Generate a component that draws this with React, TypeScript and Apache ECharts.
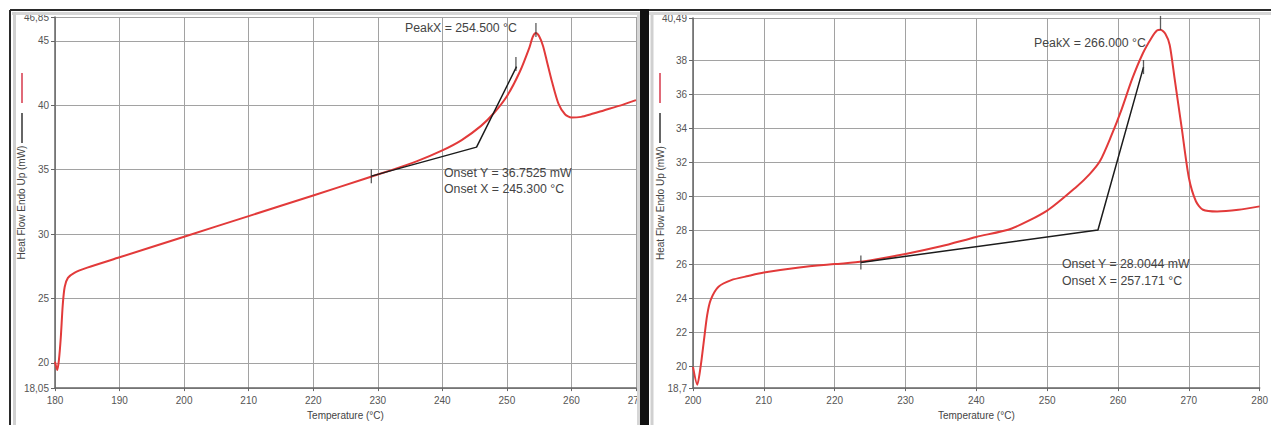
import React, { useEffect, useRef } from "react";
import * as echarts from "echarts";

// ---------- Left panel data ----------
const leftCurveT = [180.0, 180.35, 180.6, 180.9, 181.2, 181.5, 182.0, 183.0, 185.0, 190, 200, 210, 220, 228, 232, 236, 240, 243, 246, 248, 250, 252, 253.5, 254.0, 254.5, 255.0, 255.6, 256.2, 257.0, 258.0, 259.0, 260.0, 261.5, 263.0, 265.0, 268.0, 270.0];
const leftCurveV = [20.1, 19.45, 20.2, 22.0, 24.5, 25.9, 26.6, 27.0, 27.4, 28.2, 29.8, 31.4, 33.0, 34.3, 34.95, 35.65, 36.5, 37.3, 38.4, 39.4, 40.7, 42.6, 44.5, 45.3, 45.6, 45.35, 44.6, 43.4, 41.8, 40.1, 39.3, 39.05, 39.1, 39.3, 39.6, 40.05, 40.4];
const leftTangentT = [229.0, 245.3, 251.5];
const leftTangentV = [34.5, 36.7525, 43.0];
const leftMarkT = [229.0, 251.4, 254.5];
const leftMarkV = [34.5, 43.2, 45.85];
const leftYTicks = [18.05, 20, 25, 30, 35, 40, 45, 46.85];
const leftXMin = 180, leftXMax = 270;

// ---------- Right panel data ----------
const rightCurveT = [200.0, 200.6, 201.07, 201.54, 202.0, 202.5, 203.6, 205.4, 207.8, 210, 215, 220, 224, 230, 235, 240, 245, 250, 254, 256, 257.5, 259, 260.5, 262, 263.5, 264.7, 265.5, 266.0, 266.7, 267.3, 268, 269, 270, 271, 272, 274, 277, 280];
const rightCurveV = [19.95, 18.9, 19.95, 21.5, 23.0, 23.9, 24.67, 25.06, 25.3, 25.5, 25.8, 26.0, 26.15, 26.6, 27.05, 27.6, 28.1, 29.15, 30.5, 31.3, 32.1, 33.5, 35.1, 36.9, 38.4, 39.3, 39.75, 39.8, 39.55, 38.9, 36.9, 34.0, 31.1, 29.7, 29.2, 29.1, 29.2, 29.4];
const rightTangentT = [223.7, 257.171, 263.6];
const rightTangentV = [26.1, 28.0044, 37.6];
const rightMarkT = [223.7, 263.6, 266.0];
const rightMarkV = [26.1, 37.6, 40.2];
const rightYTicks = [18.7, 20, 22, 24, 26, 28, 30, 32, 34, 36, 38, 40.49];
const rightXMin = 200, rightXMax = 280;

const leftAnnot = ["PeakX = 254.500 °C", "Onset Y = 36.7525 mW", "Onset X = 245.300 °C"];
const rightAnnot = ["PeakX = 266.000 °C", "Onset Y = 28.0044 mW", "Onset X = 257.171 °C"];

const zip = (a: number[], b: number[]) => a.map((x, i) => [x, b[i]]);
const fmt = (v: number) => String(v).replace(".", ",");

const FONT = "Liberation Sans, Arial, sans-serif";
const RED = "#e23a3a";

function makeX(idx: number, min: number, max: number) {
  return {
    type: "value",
    gridIndex: idx,
    min,
    max,
    interval: 10,
    name: "Temperature (°C)",
    nameLocation: "middle",
    nameGap: 20,
    nameTextStyle: { fontFamily: FONT, fontSize: 10, color: "#444" },
    axisLine: { show: true, lineStyle: { color: "#666", width: 1.5 } },
    axisTick: { show: true, inside: false, length: 3, lineStyle: { color: "#666" } },
    axisLabel: { fontFamily: FONT, fontSize: 10, color: "#555", margin: 7, showMinLabel: true, showMaxLabel: true },
    splitLine: { show: true, lineStyle: { color: "#a2a2a2", width: 1 } },
  };
}

function makeY(idx: number, min: number, max: number, ticks: number[], gap: number) {
  return {
    type: "value",
    gridIndex: idx,
    min,
    max,
    name: "Heat Flow Endo Up (mW)",
    nameLocation: "middle",
    nameGap: gap,
    nameMoveOverlap: false,
    nameTextStyle: { fontFamily: FONT, fontSize: 10, color: "#444" },
    axisLine: { show: true, lineStyle: { color: "#666", width: 1.5 } },
    axisTick: { show: true, inside: false, length: 4, customValues: ticks, lineStyle: { color: "#666" } },
    axisLabel: {
      fontFamily: FONT,
      fontSize: 10,
      color: "#555",
      margin: 6,
      customValues: ticks,
      formatter: (v: number) => fmt(v),
    },
    splitLine: { show: true, lineStyle: { color: "#a2a2a2", width: 1 } },
  };
}

export default function App() {
  const ref = useRef<HTMLDivElement>(null);
  useEffect(() => {
    if (!ref.current) return;
    const chart = echarts.init(ref.current, undefined, { renderer: "svg" });
    const txt = (x: number, y: number, s: string) => ({
      type: "text",
      x,
      y,
      style: { text: s, fontFamily: FONT, fontSize: 12.3, fill: "#444", textVerticalAlign: "middle" },
      z: 50,
    });
    const vline = (x: number, y1: number, y2: number, color: string, w: number) => ({
      type: "line",
      shape: { x1: x, y1, x2: x, y2 },
      style: { stroke: color, lineWidth: w },
      z: 1,
    });
    const hline = (y: number, x1: number, x2: number, color: string, w: number) => ({
      type: "line",
      shape: { x1, y1: y, x2, y2: y },
      style: { stroke: color, lineWidth: w },
      z: 1,
    });
    chart.setOption({
      animation: false,
      backgroundColor: "#ffffff",
      grid: [
        { left: 55, top: 17, width: 581, height: 378, show: false },
        { left: 693, top: 18, width: 574, height: 377, show: false },
      ],
      xAxis: [makeX(0, leftXMin, leftXMax), makeX(1, rightXMin, rightXMax)],
      yAxis: [makeY(0, 18.05, 46.85, leftYTicks, 29), makeY(1, 18.7, 40.49, rightYTicks, 28)],
      series: [
        {
          type: "line", xAxisIndex: 0, yAxisIndex: 0, data: zip(leftCurveT, leftCurveV),
          showSymbol: false, smooth: 0.25, lineStyle: { color: RED, width: 2 }, z: 3,
        },
        {
          type: "line", xAxisIndex: 0, yAxisIndex: 0, data: zip(leftTangentT, leftTangentV),
          showSymbol: false, lineStyle: { color: "#1c1c1c", width: 1.5 }, z: 4,
        },
        {
          type: "scatter", xAxisIndex: 0, yAxisIndex: 0, data: zip(leftMarkT, leftMarkV),
          symbol: "rect", symbolSize: [1.3, 14], itemStyle: { color: "#333" }, z: 5,
        },
        {
          type: "line", xAxisIndex: 1, yAxisIndex: 1, data: zip(rightCurveT, rightCurveV),
          showSymbol: false, smooth: 0.25, lineStyle: { color: RED, width: 2 }, z: 3,
        },
        {
          type: "line", xAxisIndex: 1, yAxisIndex: 1, data: zip(rightTangentT, rightTangentV),
          showSymbol: false, lineStyle: { color: "#1c1c1c", width: 1.5 }, z: 4,
        },
        {
          type: "scatter", xAxisIndex: 1, yAxisIndex: 1, data: zip(rightMarkT, rightMarkV),
          symbol: "rect", symbolSize: [1.3, 14], itemStyle: { color: "#333" }, z: 5,
        },
      ],
      graphic: [
        // frame left panel
        hline(10, 10, 1271, "#2a2a2a", 2),
        hline(13.5, 12, 640, "#d6d6d6", 3),
        vline(10, 10, 425, "#2a2a2a", 2),
        vline(14.5, 12, 425, "#d0d0d0", 3),
        vline(638.5, 12, 425, "#d6d6d6", 3),
        // divider
        { type: "rect", shape: { x: 640, y: 9, width: 9, height: 416 }, style: { fill: "#111" }, z: 50 },
        vline(652, 12, 425, "#d0d0d0", 3),
        hline(13.5, 649, 1271, "#d6d6d6", 3),
        // legend marks
        { ...vline(22, 73, 103, "#e06a78", 2), z: 50 },
        { ...vline(22, 113, 143, "#333", 1.5), z: 50 },
        { ...vline(660, 73, 103, "#e06a78", 2), z: 50 },
        { ...vline(660, 113, 143, "#333", 1.5), z: 50 },
        // annotations
        txt(405, 28, leftAnnot[0]),
        txt(444, 173, leftAnnot[1]),
        txt(444, 189, leftAnnot[2]),
        txt(1034, 43, rightAnnot[0]),
        txt(1062, 264, rightAnnot[1]),
        txt(1062, 281, rightAnnot[2]),
      ],
    });
    return () => chart.dispose();
  }, []);
  return (
    <div style={{ position: "fixed", left: 0, top: 0, width: 1271, height: 425, overflow: "hidden", background: "#fff" }}>
      <div ref={ref} style={{ width: 1271, height: 425 }} />
    </div>
  );
}
